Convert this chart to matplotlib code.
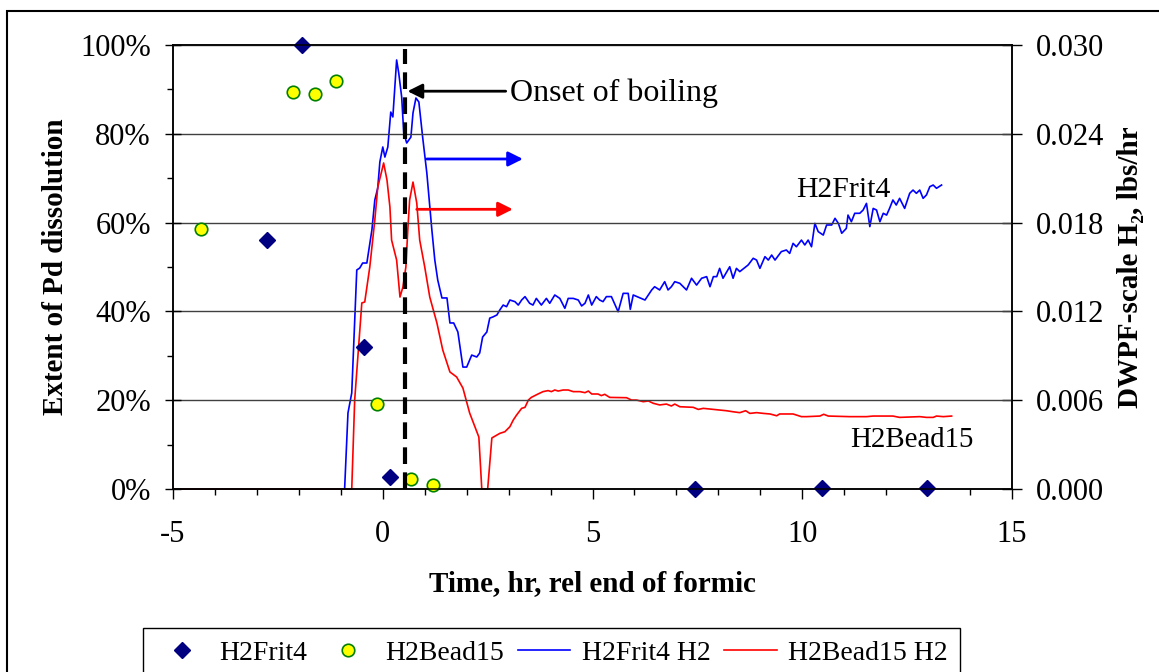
import matplotlib.pyplot as plt
from matplotlib.patches import Rectangle
from matplotlib.ticker import MultipleLocator, FuncFormatter

plt.rcParams['font.family'] = ['Liberation Serif', 'DejaVu Serif']
plt.rcParams['font.size'] = 20
plt.rcParams['axes.unicode_minus'] = False

# Extent of Pd dissolution (%), left axis
frit_t = [-2.77, -1.93, -0.45, 0.17, 7.44, 10.46, 12.97]
frit_pd = [56.1, 100.0, 32.0, 2.7, 0.0, 0.3, 0.2]
bead_t = [-4.34, -2.15, -1.62, -1.12, -0.14, 0.67, 1.19]
bead_pd = [58.6, 89.4, 89.0, 91.9, 19.1, 2.2, 0.9]

# DWPF-scale H2 (lbs/hr), right axis
frit_h2_t = [-5.0, -0.91, -0.83, -0.74, -0.62, -0.55, -0.48, -0.38, -0.26, -0.19,
             -0.12, -0.07, 0.0, 0.05, 0.12, 0.19, 0.24, 0.33, 0.38, 0.45,
             0.50, 0.57, 0.67, 0.72, 0.79, 0.86, 0.95, 1.05, 1.17, 1.24,
             1.31, 1.41, 1.53, 1.60, 1.69, 1.79, 1.91, 2.00, 2.12, 2.24,
             2.31, 2.38, 2.48, 2.55, 2.62, 2.72, 2.79, 2.87, 2.95, 3.03,
             3.15, 3.23, 3.31, 3.39, 3.50, 3.58, 3.66, 3.78, 3.90, 3.98,
             4.10, 4.22, 4.34, 4.42, 4.54, 4.66, 4.74, 4.82, 4.90, 4.98,
             5.09, 5.17, 5.25, 5.33, 5.45, 5.61, 5.73, 5.85, 5.90, 5.97,
             6.25, 6.41, 6.48, 6.60, 6.72, 6.80, 6.88, 6.96, 7.08, 7.24,
             7.36, 7.48, 7.60, 7.72, 7.80, 7.88, 7.96, 8.03, 8.11, 8.27,
             8.35, 8.43, 8.51, 8.71, 8.83, 8.91, 8.99, 9.11, 9.19, 9.27,
             9.35, 9.50, 9.62, 9.70, 9.78, 9.86, 9.98, 10.06, 10.14, 10.22,
             10.30, 10.38, 10.50, 10.58, 10.70, 10.78, 10.86, 10.94, 11.05, 11.09,
             11.17, 11.25, 11.37, 11.45, 11.53, 11.61, 11.69, 11.77, 11.85, 11.93,
             12.01, 12.08, 12.16, 12.24, 12.32, 12.44, 12.56, 12.64, 12.72, 12.80,
             12.88, 12.96, 13.04, 13.12, 13.20, 13.32]
frit_h2 = [0.0, 0.0, 0.00514, 0.00649, 0.01480, 0.01493, 0.01527, 0.01527, 0.01750, 0.01953,
           0.02034, 0.02210, 0.02311, 0.02243, 0.02311, 0.02547, 0.02514, 0.02899, 0.02811, 0.02649,
           0.02405, 0.02338, 0.02378, 0.02541, 0.02642, 0.02615, 0.02378, 0.02135, 0.01750, 0.01547,
           0.01412, 0.01291, 0.01291, 0.01122, 0.01122, 0.01061, 0.00824, 0.00824, 0.00905, 0.00892,
           0.00919, 0.01027, 0.01061, 0.01155, 0.01162, 0.01176, 0.01210, 0.01243, 0.01232, 0.01277,
           0.01266, 0.01243, 0.01277, 0.01300, 0.01255, 0.01243, 0.01288, 0.01243, 0.01288, 0.01255,
           0.01311, 0.01288, 0.01221, 0.01288, 0.01288, 0.01277, 0.01237, 0.01255, 0.01311, 0.01243,
           0.01300, 0.01277, 0.01266, 0.01300, 0.01300, 0.01198, 0.01322, 0.01322, 0.01214, 0.01311,
           0.01277, 0.01345, 0.01367, 0.01345, 0.01401, 0.01345, 0.01367, 0.01401, 0.01390, 0.01345,
           0.01424, 0.01378, 0.01424, 0.01435, 0.01367, 0.01435, 0.01435, 0.01491, 0.01424, 0.01502,
           0.01424, 0.01491, 0.01469, 0.01514, 0.01559, 0.01547, 0.01491, 0.01570, 0.01547, 0.01581,
           0.01547, 0.01604, 0.01615, 0.01592, 0.01660, 0.01637, 0.01682, 0.01649, 0.01682, 0.01637,
           0.01795, 0.01739, 0.01716, 0.01784, 0.01784, 0.01829, 0.01795, 0.01728, 0.01761, 0.01851,
           0.01806, 0.01863, 0.01863, 0.01885, 0.01930, 0.01773, 0.01896, 0.01885, 0.01806, 0.01863,
           0.01851, 0.01896, 0.01953, 0.01919, 0.01964, 0.01896, 0.01998, 0.02020, 0.01998, 0.02020,
           0.01964, 0.01987, 0.02043, 0.02054, 0.02032, 0.02054]

bead_h2_t = [-5.0, -0.74, -0.67, -0.50, -0.43, -0.31, -0.19, -0.12, -0.02, 0.02,
             0.10, 0.17, 0.21, 0.33, 0.41, 0.48, 0.55, 0.60, 0.64, 0.72,
             0.81, 0.88, 1.00, 1.12, 1.29, 1.43, 1.60, 1.76, 1.91, 2.07,
             2.29, 2.36, 2.50, 2.60, 2.79, 2.91, 3.03, 3.11, 3.19, 3.31,
             3.39, 3.47, 3.54, 3.70, 3.82, 3.94, 4.02, 4.10, 4.18, 4.30,
             4.42, 4.54, 4.70, 4.82, 4.90, 4.98, 5.13, 5.21, 5.29, 5.41,
             5.81, 5.93, 6.05, 6.21, 6.33, 6.45, 6.60, 6.76, 6.88, 6.96,
             7.08, 7.40, 7.52, 7.64, 7.88, 8.19, 8.35, 8.51, 8.65, 8.75,
             8.91, 9.07, 9.23, 9.39, 9.46, 9.78, 9.98, 10.10, 10.42, 10.51,
             10.62, 11.13, 11.53, 11.69, 12.16, 12.32, 12.80, 12.96, 13.12, 13.20,
             13.36, 13.56]
bead_h2 = [0.0, 0.0, 0.00601, 0.01257, 0.01264, 0.01500, 0.01818, 0.02040, 0.02155, 0.02203,
           0.02088, 0.01905, 0.01682, 0.01547, 0.01297, 0.01365, 0.01500, 0.01770, 0.01953, 0.02074,
           0.01932, 0.01682, 0.01500, 0.01297, 0.01122, 0.00939, 0.00791, 0.00757, 0.00682, 0.00514,
           0.00351, 0.0, 0.0, 0.00345, 0.00376, 0.00387, 0.00421, 0.00466, 0.00500, 0.00545,
           0.00552, 0.00601, 0.00619, 0.00642, 0.00658, 0.00665, 0.00658, 0.00669, 0.00662, 0.00669,
           0.00669, 0.00658, 0.00658, 0.00651, 0.00662, 0.00642, 0.00642, 0.00631, 0.00640, 0.00619,
           0.00617, 0.00601, 0.00601, 0.00590, 0.00595, 0.00579, 0.00568, 0.00574, 0.00561, 0.00574,
           0.00556, 0.00552, 0.00538, 0.00545, 0.00538, 0.00529, 0.00522, 0.00516, 0.00529, 0.00511,
           0.00516, 0.00511, 0.00507, 0.00495, 0.00507, 0.00507, 0.00489, 0.00489, 0.00493, 0.00505,
           0.00493, 0.00489, 0.00489, 0.00493, 0.00493, 0.00484, 0.00489, 0.00484, 0.00484, 0.00493,
           0.00489, 0.00493]

boiling_t = 0.52

fig = plt.figure(figsize=(11.59, 6.72), dpi=100)
ax = fig.add_axes([0.1493, 0.2723, 0.7239, 0.6607])
ax2 = ax.twinx()

# H2 generation curves on the secondary axis
ax2.plot(frit_h2_t, frit_h2, color='#0000FF', lw=1.2, label='H2Frit4 H2', clip_on=False)
ax2.plot(bead_h2_t, bead_h2, color='#FF0000', lw=1.2, label='H2Bead15 H2', clip_on=False)

# keep the markers in front of the lines
ax.set_zorder(ax2.get_zorder() + 1)
ax.patch.set_visible(False)

ax.plot(frit_t, frit_pd, ls='none', marker='D', ms=8, color='#000080', label='H2Frit4',
        clip_on=False)
ax.plot(bead_t, bead_pd, ls='none', marker='o', ms=9, mfc='#FFFF00', mec='#008000',
        mew=1.2, label='H2Bead15', clip_on=False)

ax.axvline(boiling_t, ymax=0.99, color='black', lw=3, dashes=(4, 2))

ax.set_xlim(-5, 15)
ax.set_ylim(0, 100)
ax2.set_ylim(0, 0.030)

ax.xaxis.set_major_locator(MultipleLocator(5))
ax.xaxis.set_minor_locator(MultipleLocator(1))
ax.yaxis.set_major_locator(MultipleLocator(20))
ax.yaxis.set_minor_locator(MultipleLocator(10))
ax.yaxis.set_major_formatter(FuncFormatter(lambda v, p: f'{v:.0f}%'))
ax2.yaxis.set_major_locator(MultipleLocator(0.006))
ax2.yaxis.set_major_formatter(FuncFormatter(lambda v, p: f'{v:.3f}'))

ax.tick_params(axis='x', which='major', direction='out', length=7, width=1, pad=15,
               labelsize=22)
ax.tick_params(axis='x', which='minor', direction='out', length=4, width=1)
ax.tick_params(axis='y', which='major', direction='inout', length=12, width=1, pad=10,
               labelsize=22)
ax.tick_params(axis='y', which='minor', direction='out', length=4, width=1)
ax2.tick_params(axis='y', which='major', direction='inout', length=14, width=1, pad=10,
                labelsize=22)

ax.yaxis.grid(True, color='#404040', lw=1)
for a in (ax, ax2):
    for s in a.spines.values():
        s.set_linewidth(1.1)

ax.set_xlabel('Time, hr, rel end of formic', fontweight='bold', fontsize=21)
ax.set_ylabel('Extent of Pd dissolution', fontweight='bold', fontsize=21)
ax2.set_ylabel('DWPF-scale H\u2082, lbs/hr', fontweight='bold', fontsize=21)
ax.xaxis.set_label_coords(0.5, -0.182)
ax.yaxis.set_label_coords(-0.124, 0.5)
ax2.yaxis.set_label_coords(1.125, 0.5)

# annotations
ax.annotate('', xy=(0.59, 89.6), xytext=(2.93, 89.6),
            arrowprops=dict(arrowstyle='-|>', color='black', lw=2, mutation_scale=22,
                            shrinkA=0, shrinkB=0))
ax.text(3.03, 89.2, 'Onset of boiling', ha='left', va='center', fontsize=23)
ax2.annotate('', xy=(3.34, 0.0223), xytext=(1.05, 0.0223),
             arrowprops=dict(arrowstyle='-|>', color='#0000FF', lw=2, mutation_scale=22,
                             shrinkA=0, shrinkB=0))
ax2.annotate('', xy=(3.10, 0.0189), xytext=(0.81, 0.0189),
             arrowprops=dict(arrowstyle='-|>', color='#FF0000', lw=2, mutation_scale=22,
                             shrinkA=0, shrinkB=0))
ax2.text(9.85, 0.0202, 'H2Frit4', ha='left', va='center', fontsize=21.4)
ax2.text(11.15, 0.0033, 'H2Bead15', ha='left', va='center', fontsize=20.8)

h1, l1 = ax.get_legend_handles_labels()
h2, l2 = ax2.get_legend_handles_labels()
fig.legend(h1 + h2, l1 + l2, loc='upper left', bbox_to_anchor=(143 / 1159, 1 - 628 / 672),
           ncol=4, frameon=True, fancybox=False, edgecolor='black', framealpha=1,
           handlelength=1.9, handletextpad=0.4, columnspacing=0.5, borderpad=0.45,
           borderaxespad=0, fontsize=20)

# outer chart border
fig.add_artist(Rectangle((7 / 1159, -0.2), 1.2, 1.2 - 11 / 672, transform=fig.transFigure,
                         fill=False, edgecolor='black', lw=1.5))

fig.savefig('out.png', dpi=100)
